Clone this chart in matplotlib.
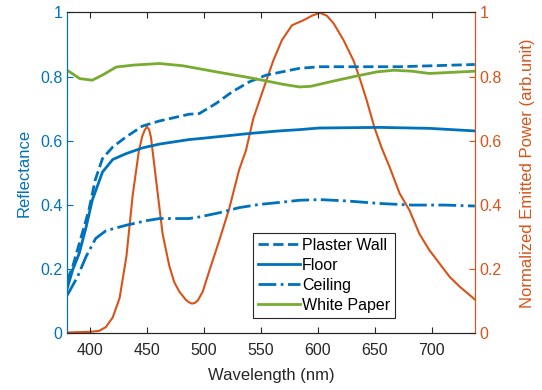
import numpy as np
import matplotlib
matplotlib.use("Agg")
import matplotlib.pyplot as plt

plt.rcParams['font.family'] = ['Liberation Sans', 'DejaVu Sans']

# reflectance curves (wavelength nm, value)
wall_wl = [380, 384.7, 390.6, 399, 404.6, 411, 420, 431.6, 446, 461, 487, 496, 510.5, 525, 540, 555, 584, 602, 672, 738]
wall_r = [0.166, 0.207, 0.28, 0.384, 0.478, 0.545, 0.581, 0.612, 0.646, 0.662, 0.683, 0.685, 0.716, 0.753, 0.784, 0.805, 0.826, 0.831, 0.831, 0.838]

floor_wl = [380, 384.7, 390.6, 396.5, 402, 411, 420, 431.6, 446, 461, 487, 496, 540, 566, 584, 601, 654, 698, 738]
floor_r = [0.14, 0.197, 0.25, 0.33, 0.415, 0.503, 0.542, 0.56, 0.578, 0.59, 0.604, 0.607, 0.623, 0.631, 0.635, 0.640, 0.642, 0.639, 0.631]

ceil_wl = [380, 389, 396.5, 405, 414, 431.6, 449, 461, 478.5, 487, 496, 513.6, 531, 549, 566, 584, 602, 625, 654, 683, 712, 738]
ceil_r = [0.119, 0.176, 0.239, 0.296, 0.32, 0.337, 0.351, 0.358, 0.358, 0.358, 0.363, 0.376, 0.392, 0.402, 0.408, 0.415, 0.417, 0.413, 0.405, 0.40, 0.40, 0.397]

paper_wl = [380, 391, 402, 411, 423, 438, 461, 481.6, 511, 540, 570, 584, 594, 611, 631.5, 652, 667, 683, 698, 738]
paper_r = [0.82, 0.794, 0.789, 0.805, 0.83, 0.836, 0.841, 0.834, 0.815, 0.797, 0.776, 0.768, 0.77, 0.784, 0.80, 0.815, 0.82, 0.817, 0.81, 0.817]

# emitted power
led_wl = [380, 390, 400, 408, 414, 420, 426, 432, 437.5, 443, 446, 448, 450, 452, 453.6, 458, 463.8, 469.7, 474, 478.5,
          484.4, 487, 489.6, 492, 494.6, 499, 505, 513.6, 522.4, 531, 537, 543.5, 552, 561, 568.6, 577.4, 587.6, 595,
          602, 608, 614, 622.7, 631.5, 637.4, 643, 650, 656, 663, 672, 680.6, 689.4, 698, 707, 716, 725, 738]
led_p = [0.003, 0.004, 0.005, 0.008, 0.02, 0.05, 0.11, 0.24, 0.43, 0.57, 0.615, 0.633, 0.644, 0.635, 0.61, 0.48, 0.31, 0.21, 0.16, 0.13,
         0.104, 0.097, 0.093, 0.095, 0.102, 0.13, 0.197, 0.29, 0.39, 0.51, 0.57, 0.67, 0.758, 0.85, 0.914, 0.96, 0.976, 0.99,
         0.999, 0.99, 0.966, 0.914, 0.85, 0.79, 0.727, 0.64, 0.58, 0.52, 0.436, 0.384, 0.31, 0.26, 0.218, 0.176, 0.145, 0.106]

blue = '#0072BD'
orange = '#D95319'
green = '#77AC30'
dark = '#262626'

fig = plt.figure(figsize=(5.42, 3.9), dpi=100)
ax = fig.add_axes([0.124, 0.145, 0.752, 0.823])
ax2 = ax.twinx()

ax.plot(wall_wl, wall_r, '--', color=blue, lw=2, label='Plaster Wall')
ax.plot(floor_wl, floor_r, '-', color=blue, lw=2, label='Floor')
ax.plot(ceil_wl, ceil_r, '-.', color=blue, lw=2, label='Ceiling')
ax.plot(paper_wl, paper_r, '-', color=green, lw=2, label='White Paper')
ax2.plot(led_wl, led_p, '-', color=orange, lw=1.5)

ax.set_xlim(380, 738)
ax.set_ylim(0, 1)
ax2.set_ylim(0, 1)
ax.set_xticks([400, 450, 500, 550, 600, 650, 700])
ax.set_yticks([0, 0.2, 0.4, 0.6, 0.8, 1])
ax.set_yticklabels(['0', '0.2', '0.4', '0.6', '0.8', '1'])
ax2.set_yticks([0, 0.2, 0.4, 0.6, 0.8, 1])
ax2.set_yticklabels(['0', '0.2', '0.4', '0.6', '0.8', '1'])

ax.tick_params(axis='x', direction='in', top=True, colors=dark, labelsize=11.5, length=4, pad=7)
ax.tick_params(axis='y', direction='in', colors=blue, labelsize=11.5, length=4)
ax2.tick_params(axis='y', direction='in', colors=orange, labelsize=11.5, length=4)

for a in (ax, ax2):
    a.spines['left'].set_color(blue)
    a.spines['right'].set_color(orange)
    a.spines['top'].set_color(dark)
    a.spines['bottom'].set_color(dark)

ax.set_xlabel('Wavelength (nm)', fontsize=12, color=dark, labelpad=7)
ax.set_ylabel('Reflectance', fontsize=12, color=blue, labelpad=6)
ax2.set_ylabel('Normalized Emitted Power (arb.unit)', fontsize=12, color=orange, labelpad=13)

leg = ax.legend(loc='lower left', bbox_to_anchor=(0.457, 0.049, 0.348, 0.275), mode='expand',
                fontsize=11.5, handlelength=2.6, handletextpad=0.15, borderaxespad=0,
                labelspacing=0.32, fancybox=False, framealpha=1, borderpad=0.3)
leg.get_frame().set_edgecolor(dark)
leg.get_frame().set_linewidth(0.8)
ax.set_zorder(ax2.get_zorder() + 1)
ax.patch.set_visible(False)

fig.savefig('out.png', dpi=100)
